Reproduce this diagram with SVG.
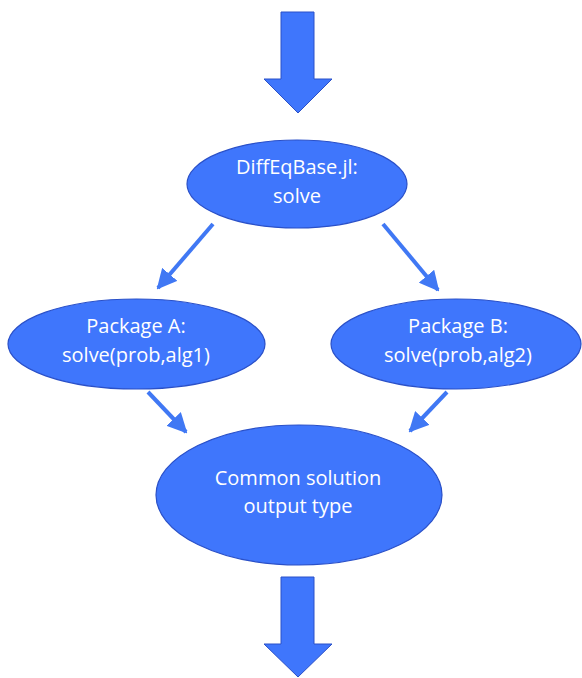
<svg xmlns="http://www.w3.org/2000/svg" width="582" height="678" viewBox="0 0 582 678">
<defs>
<style>
.node{fill:#3f76fc;stroke:#2a50c8;stroke-width:1.2}
.big{fill:#3f76fc;stroke:#2a50c8;stroke-width:1}
.lbl{fill:#ffffff;font-family:"Open Sans","Liberation Sans",sans-serif;font-size:20px;text-anchor:middle}
.edge{stroke:#4078f4;stroke-width:4;fill:none}
</style>
<marker id="ah" viewBox="0 0 10 10" refX="9" refY="5" markerWidth="5" markerHeight="5" markerUnits="strokeWidth" orient="auto">
<path d="M0,0 L10,5 L0,10 Z" fill="#4078f4"/>
</marker>
</defs>
<rect width="582" height="678" fill="#ffffff"/>
<g id="arrow-in">
<path class="big" d="M281,12 L314,12 L314,79 L332,79 L298,113 L264,79 L281,79 Z"/>
</g>
<g id="arrow-out">
<path class="big" d="M281,577 L314,577 L314,644 L332,644 L298,677 L264,644 L281,644 Z"/>
</g>
<g id="connectors">
<line class="edge" x1="213" y1="224" x2="158" y2="288" marker-end="url(#ah)"/>
<line class="edge" x1="383" y1="224" x2="438" y2="290" marker-end="url(#ah)"/>
<line class="edge" x1="148" y1="392" x2="186" y2="432" marker-end="url(#ah)"/>
<line class="edge" x1="447" y1="392" x2="410" y2="431" marker-end="url(#ah)"/>
</g>
<g id="diffeqbase">
<ellipse class="node" cx="297" cy="184" rx="110" ry="44"/>
<text class="lbl" x="297" y="174">DiffEqBase.jl:</text>
<text class="lbl" x="297" y="203">solve</text>
</g>
<g id="packageA">
<ellipse class="node" cx="136.5" cy="344" rx="128.5" ry="45"/>
<text class="lbl" x="136" y="333">Package A:</text>
<text class="lbl" x="136" y="362">solve(prob,alg1)</text>
</g>
<g id="packageB">
<ellipse class="node" cx="456" cy="344" rx="125" ry="45"/>
<text class="lbl" x="458" y="333">Package B:</text>
<text class="lbl" x="458" y="362">solve(prob,alg2)</text>
</g>
<g id="common">
<ellipse class="node" cx="299" cy="495" rx="143" ry="70"/>
<text class="lbl" x="298" y="485">Common solution</text>
<text class="lbl" x="298" y="513">output type</text>
</g>
</svg>
